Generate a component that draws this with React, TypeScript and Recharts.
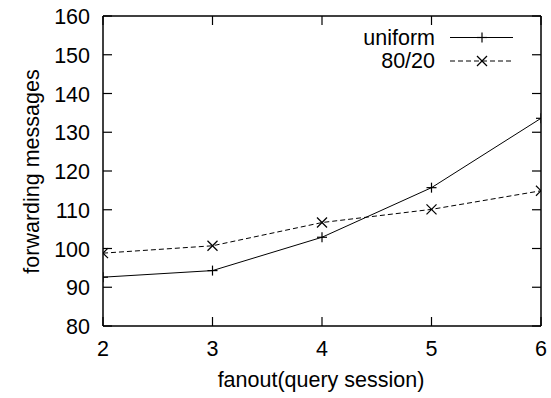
import React from 'react';
import { LineChart, Line, XAxis, YAxis } from 'recharts';

const fanouts = [2, 3, 4, 5, 6];
const uniformValues = [92.6, 94.3, 102.9, 115.7, 133.6];
const skewedValues = [98.8, 100.7, 106.7, 110.1, 114.9];
const yTicks = [80, 90, 100, 110, 120, 130, 140, 150, 160];
const xTicks = [2, 3, 4, 5, 6];

const data = fanouts.map((f, i) => ({ fanout: f, uniform: uniformValues[i], skewed: skewedValues[i] }));

const FONT = '"Liberation Sans", Arial, Helvetica, sans-serif';
const FS = 21.5;
const TICK = 9;

const LeftTick = ({ x, y, payload }: any) => (
  <g>
    <line x1={x} x2={x + TICK} y1={y} y2={y} stroke="#000" strokeWidth={1.2} />
    <text x={x - 13} y={y + 8} textAnchor="end" fontFamily={FONT} fontSize={FS} fill="#000">
      {payload.value}
    </text>
  </g>
);

const RightTick = ({ x, y }: any) => (
  <line x1={x - TICK} x2={x} y1={y} y2={y} stroke="#000" strokeWidth={1.2} />
);

const BottomTick = ({ x, y, payload }: any) => (
  <g>
    <line x1={x} x2={x} y1={y} y2={y - TICK} stroke="#000" strokeWidth={1.2} />
    <text x={x} y={y + 30} textAnchor="middle" fontFamily={FONT} fontSize={FS} fill="#000">
      {payload.value}
    </text>
  </g>
);

const TopTick = ({ x, y }: any) => (
  <line x1={x} x2={x} y1={y} y2={y + TICK} stroke="#000" strokeWidth={1.2} />
);

const PlusDot = ({ cx, cy, index }: any) => (
  <g key={`p-${index}`}>
    <line x1={cx - 5} x2={cx + 5} y1={cy} y2={cy} stroke="#000" strokeWidth={1.2} />
    <line x1={cx} x2={cx} y1={cy - 5} y2={cy + 5} stroke="#000" strokeWidth={1.2} />
  </g>
);

const CrossDot = ({ cx, cy, index }: any) => (
  <g key={`x-${index}`}>
    <line x1={cx - 5} x2={cx + 5} y1={cy - 5} y2={cy + 5} stroke="#000" strokeWidth={1.2} />
    <line x1={cx - 5} x2={cx + 5} y1={cy + 5} y2={cy - 5} stroke="#000" strokeWidth={1.2} />
  </g>
);

export default function App() {
  return (
    <div style={{ position: 'absolute', left: 0, top: 0, width: 551, height: 398, background: '#fff' }}>
      <LineChart width={551} height={398} data={data} margin={{ top: 15, right: 9, left: 0, bottom: 0 }}>
        <XAxis
          dataKey="fanout"
          type="number"
          domain={[2, 6]}
          ticks={xTicks}
          height={72}
          tickSize={0}
          tickMargin={0}
          tick={<BottomTick />}
          axisLine={{ stroke: '#000', strokeWidth: 1.5 }}
          tickLine={false}
          allowDataOverflow
        />
        <XAxis
          xAxisId="top"
          orientation="top"
          dataKey="fanout"
          type="number"
          domain={[2, 6]}
          ticks={xTicks}
          height={1}
          tickSize={0}
          tickMargin={0}
          tick={<TopTick />}
          axisLine={{ stroke: '#000', strokeWidth: 1.5 }}
          tickLine={false}
          allowDataOverflow
        />
        <YAxis
          type="number"
          domain={[80, 160]}
          ticks={yTicks}
          width={103}
          tickSize={0}
          tickMargin={0}
          tick={<LeftTick />}
          axisLine={{ stroke: '#000', strokeWidth: 1.5 }}
          tickLine={false}
          allowDataOverflow
        />
        <YAxis
          yAxisId="right"
          orientation="right"
          type="number"
          domain={[80, 160]}
          ticks={yTicks}
          width={1}
          tickSize={0}
          tickMargin={0}
          tick={<RightTick />}
          axisLine={{ stroke: '#000', strokeWidth: 1.5 }}
          tickLine={false}
          allowDataOverflow
        />
        <Line
          dataKey="uniform"
          stroke="#000"
          strokeWidth={1}
          dot={<PlusDot />}
          activeDot={false}
          isAnimationActive={false}
        />
        <Line
          dataKey="skewed"
          stroke="#000"
          strokeWidth={1}
          strokeDasharray="5 3"
          dot={<CrossDot />}
          activeDot={false}
          isAnimationActive={false}
        />
        <g>
          <text x={435} y={45} textAnchor="end" fontFamily={FONT} fontSize={FS} fill="#000">uniform</text>
          <line x1={450} x2={513} y1={37.5} y2={37.5} stroke="#000" strokeWidth={1} />
          <PlusDot cx={482} cy={37.5} index={0} />
          <text x={435} y={68} textAnchor="end" fontFamily={FONT} fontSize={FS} fill="#000">80/20</text>
          <line x1={450} x2={513} y1={61} y2={61} stroke="#000" strokeWidth={1} strokeDasharray="5 3" />
          <CrossDot cx={482} cy={61} index={0} />
        </g>
        <text
          x={39}
          y={171.5}
          transform="rotate(-90, 39, 171.5)"
          textAnchor="middle"
          fontFamily={FONT}
          fontSize={FS}
          fill="#000"
        >
          forwarding messages
        </text>
        <text x={321} y={387} textAnchor="middle" fontFamily={FONT} fontSize={FS} fill="#000">
          fanout(query session)
        </text>
      </LineChart>
    </div>
  );
}
